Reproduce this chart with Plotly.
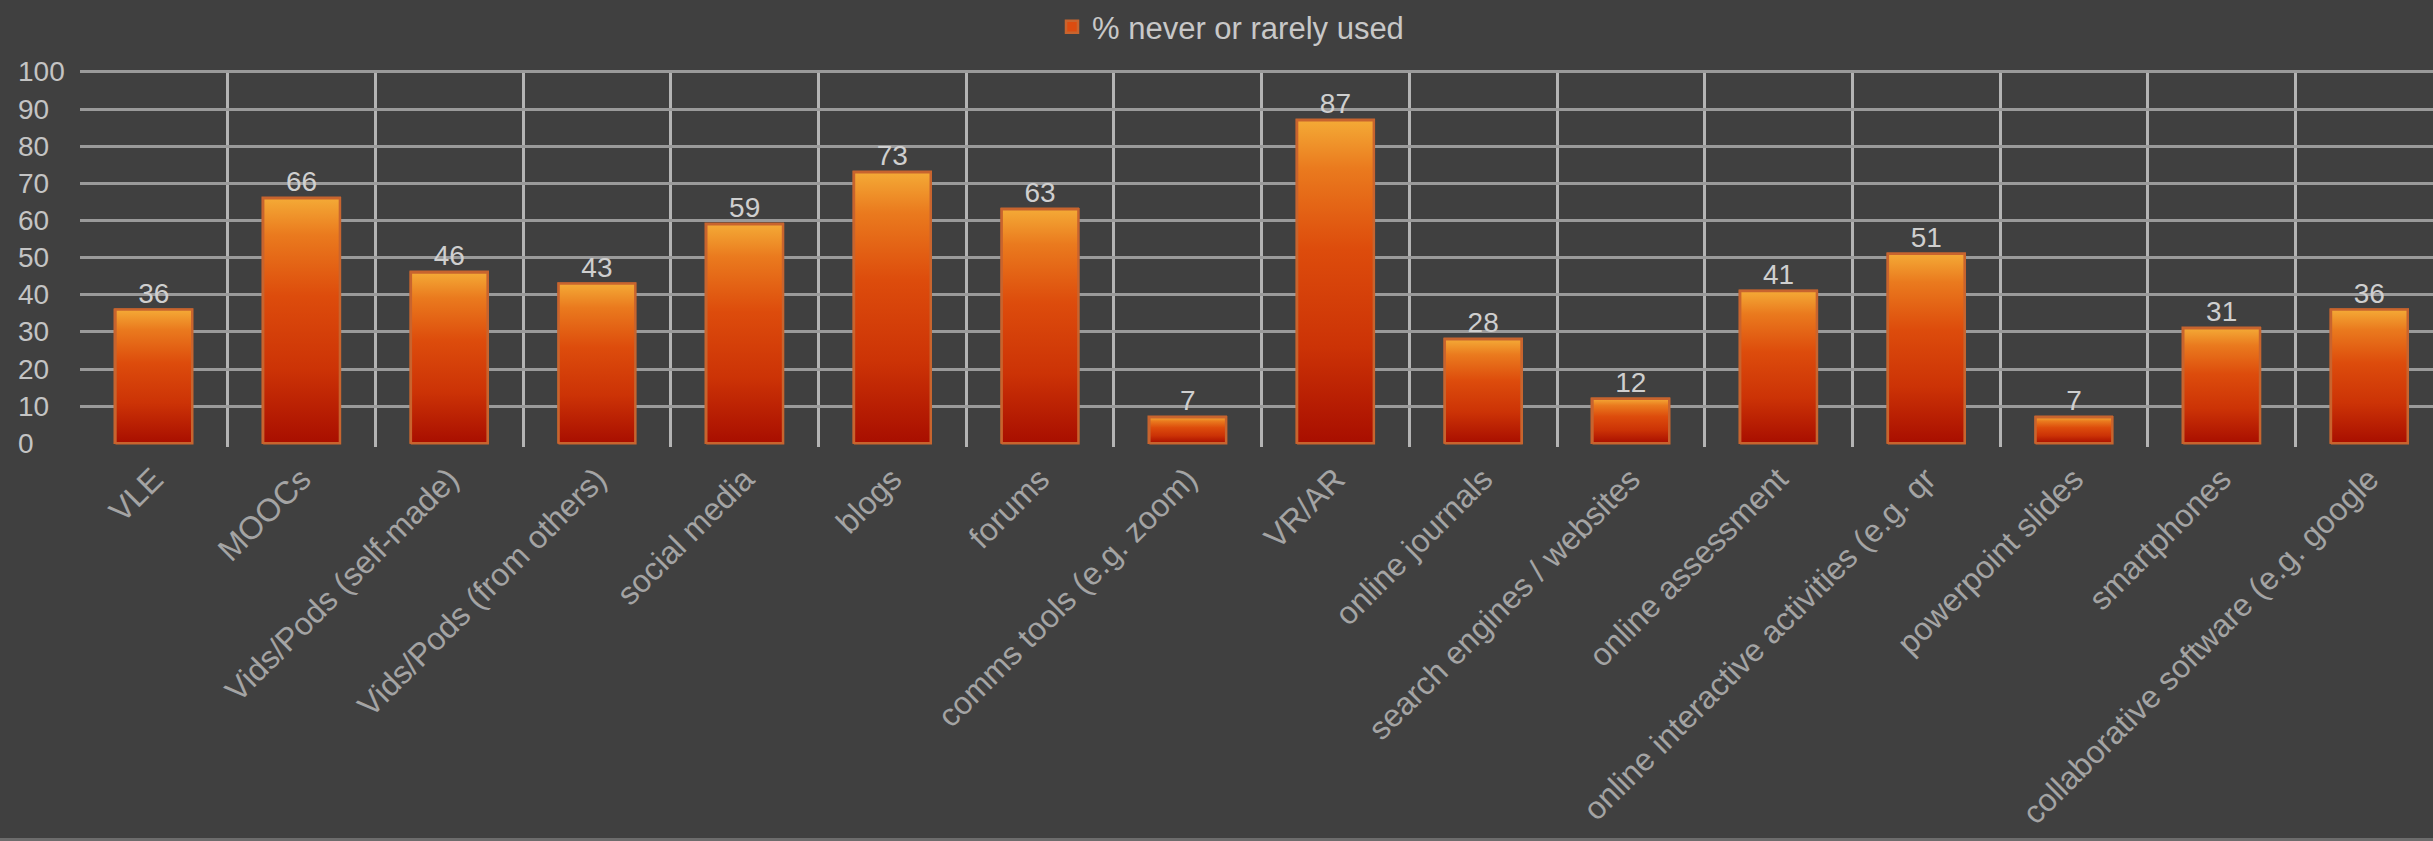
import plotly.graph_objects as go

# Survey results: share of respondents who never or rarely use each tool
categories = [
    "VLE",
    "MOOCs",
    "Vids/Pods (self-made)",
    "Vids/Pods (from others)",
    "social media",
    "blogs",
    "forums",
    "comms tools (e.g. zoom)",
    "VR/AR",
    "online journals",
    "search engines / websites",
    "online assessment",
    "online interactive activities (e.g. qr",
    "powerpoint slides",
    "smartphones",
    "collaborative software (e.g. google",
]
values = [36, 66, 46, 43, 59, 73, 63, 7, 87, 28, 12, 41, 51, 7, 31, 36]
series_name = "% never or rarely used"
y_ticks = list(range(0, 101, 10))

W, H = 2433, 841
BG = "#404040"
FONT = "Liberation Sans"
BAR_W = 0.52
BAR_EDGE = "#c8642e"
plot_left_px = 80
cat_px = 147.7
y_lo, y_hi = -1.0, 100.5
m_top, m_bot = 70, 394

gradient = dict(
    type="vertical",
    colorscale=[
        [0.0, "#a80e00"],
        [0.3, "#cc3306"],
        [0.6, "#dd4c0c"],
        [0.85, "#ea7a1e"],
        [1.0, "#f4aa36"],
    ],
)

fig = go.Figure()

# base bar series (carries the legend entry)
fig.add_trace(
    go.Bar(
        x=list(range(len(values))),
        y=values,
        width=BAR_W,
        name=series_name,
        marker=dict(color="#dc4c10", line=dict(color=BAR_EDGE, width=2.5)),
        hoverinfo="skip",
    )
)

# gradient face painted over each bar
for i, v in enumerate(values):
    x0, x1 = i - BAR_W / 2, i + BAR_W / 2
    fig.add_trace(
        go.Scatter(
            x=[x0, x1, x1, x0, x0],
            y=[0, 0, v, v, 0],
            mode="lines",
            fill="toself",
            fillgradient=gradient,
            line=dict(color=BAR_EDGE, width=2.5),
            showlegend=False,
            hoverinfo="skip",
        )
    )

# value labels above the bars
fig.add_trace(
    go.Scatter(
        x=list(range(len(values))),
        y=values,
        mode="text",
        text=[str(v) for v in values],
        textposition="top center",
        textfont=dict(family=FONT, size=28, color="#cfcfcf"),
        showlegend=False,
        hoverinfo="skip",
    )
)

# left-aligned value-axis labels
for t in y_ticks:
    fig.add_annotation(
        x=16 / W,
        xref="paper",
        xanchor="left",
        y=t,
        yref="y",
        yanchor="middle",
        text=str(t),
        showarrow=False,
        font=dict(family=FONT, size=28, color="#c4c4c4"),
    )

# thin frame line along the bottom edge
plot_h = H - m_top - m_bot
y_edge = -(H - 1.5 - (H - m_bot)) / plot_h
fig.add_shape(
    type="line",
    xref="paper",
    yref="paper",
    x0=0,
    x1=1,
    y0=y_edge,
    y1=y_edge,
    line=dict(color="#6c6c6c", width=3),
)

n_visible = (W - plot_left_px) / cat_px

fig.update_layout(
    width=W,
    height=H,
    paper_bgcolor=BG,
    plot_bgcolor=BG,
    margin=dict(l=0, r=0, t=m_top, b=m_bot),
    showlegend=True,
    legend=dict(
        orientation="h",
        x=1052 / W,
        xanchor="left",
        y=1 + (m_top - 27) / plot_h,
        yanchor="middle",
        font=dict(family=FONT, size=31, color="#c8c8c8"),
        bgcolor="rgba(0,0,0,0)",
    ),
    xaxis=dict(
        domain=[plot_left_px / W, 1],
        range=[-0.5, -0.5 + n_visible],
        tickmode="array",
        tickvals=list(range(len(categories))),
        ticktext=categories,
        tickangle=-45,
        tickfont=dict(family=FONT, size=32, color="#a4a4a4"),
        showgrid=False,
        zeroline=False,
        showline=False,
        ticks="",
        ticklabelstandoff=6,
        minor=dict(
            tickmode="array",
            tickvals=[i + 0.5 for i in range(len(categories))],
            showgrid=True,
            gridcolor="#b4b4b4",
            gridwidth=2.5,
            ticks="",
        ),
    ),
    yaxis=dict(
        range=[y_lo, y_hi],
        tickmode="array",
        tickvals=[t for t in y_ticks if t > 0],
        showticklabels=False,
        showgrid=True,
        gridcolor="#9a9a9a",
        gridwidth=3,
        zeroline=False,
        showline=False,
        ticks="",
    ),
    bargap=0,
)

fig.write_html("out.html")
